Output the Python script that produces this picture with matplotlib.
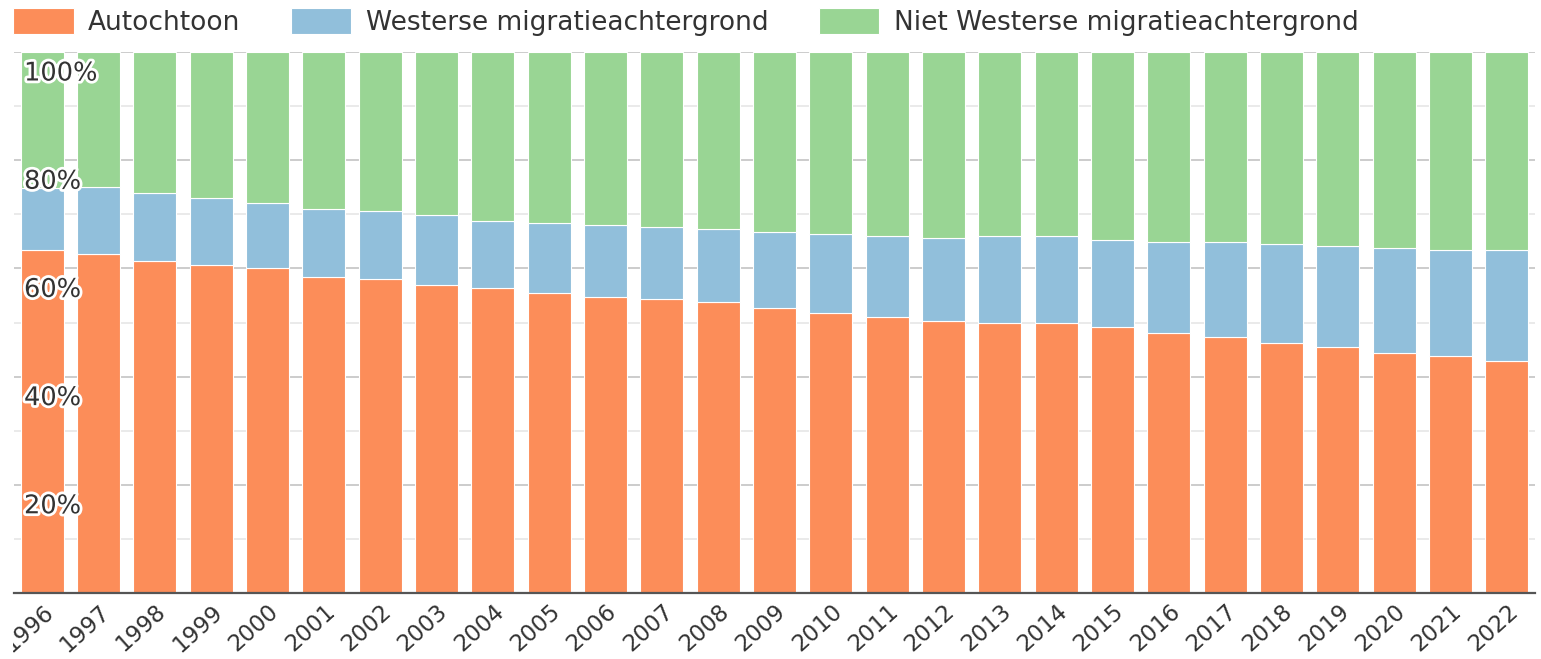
import matplotlib.pyplot as plt
import matplotlib.patheffects as pe
from matplotlib.patches import Patch
from matplotlib.transforms import ScaledTranslation, Bbox, TransformedBbox
import numpy as np

plt.rcParams['font.family'] = ['DejaVu Sans']

# data (percent of population per year)
years = [str(y) for y in range(1996, 2023)]
autochtoon = [63.4, 62.6, 61.4, 60.6, 60.0, 58.5, 58.1, 56.9, 56.3, 55.5, 54.7, 54.3, 53.7,
              52.6, 51.8, 51.0, 50.3, 49.9, 49.9, 49.1, 48.0, 47.3, 46.2, 45.4, 44.3, 43.9, 42.8]
westers = [11.5, 12.4, 12.5, 12.5, 12.1, 12.5, 12.5, 12.9, 12.4, 12.9, 13.3, 13.3, 13.5,
           14.2, 14.6, 15.0, 15.3, 16.1, 16.1, 16.2, 16.9, 17.6, 18.3, 18.7, 19.5, 19.5, 20.6]
niet_westers = [25.1, 25.0, 26.1, 26.9, 27.9, 29.0, 29.4, 30.2, 31.3, 31.6, 32.0, 32.4, 32.8,
                33.2, 33.6, 34.0, 34.4, 34.0, 34.0, 34.7, 35.1, 35.1, 35.5, 35.9, 36.2, 36.6, 36.6]
series_names = ["Autochtoon", "Westerse migratieachtergrond", "Niet Westerse migratieachtergrond"]
colors = ["#fc8d59", "#91bfdb", "#99d594"]
ytick_vals = [20, 40, 60, 80, 100]
ytick_labels = ["20%", "40%", "60%", "80%", "100%"]

W, H = 1541, 659
fig = plt.figure(figsize=(W / 100, H / 100), dpi=100)
ax = fig.add_axes([14 / W, (H - 593) / H, 1521 / W, 541 / H])

x = np.arange(len(years))
bottom = np.zeros(len(years))
for vals, name, col in zip([autochtoon, westers, niet_westers], series_names, colors):
    ax.bar(x, vals, width=0.76, bottom=bottom, color=col, edgecolor="white",
           linewidth=0.8, label=name, zorder=2)
    bottom += np.array(vals)

ax.set_xlim(-0.5, len(years) - 0.5)
ax.set_ylim(0, 100)

# grid: darker every 20%, lighter in between
ax.set_yticks(ytick_vals)
ax.set_yticks([10, 30, 50, 70, 90], minor=True)
ax.grid(axis="y", which="major", color="#c8c8c8", linewidth=1.3, zorder=0)
ax.grid(axis="y", which="minor", color="#e8e8e8", linewidth=1.3, zorder=0)
ax.set_axisbelow(True)
ax.tick_params(axis="y", which="both", length=0, labelleft=False)

for s in ["left", "right", "top"]:
    ax.spines[s].set_visible(False)
ax.spines["bottom"].set_color("#555555")
ax.spines["bottom"].set_linewidth(1.6)
ax.spines["bottom"].set_zorder(3)

# y labels inside the plot, just below their gridline, on top of the bars
label_tr = ax.get_yaxis_transform() + ScaledTranslation(0.10, -0.215, fig.dpi_scale_trans)
for v, t in zip(ytick_vals, ytick_labels):
    ax.text(0, v, t, transform=label_tr, ha="left", va="center", fontsize=18.5,
            color="#333333", zorder=5,
            path_effects=[pe.withStroke(linewidth=4, foreground="white")])

# x labels rotated; the first one is clipped at the left margin like the original
ax.set_xticks(x)
ax.set_xticklabels(years)
ax.tick_params(axis="x", length=0, pad=4, labelsize=16.5, labelcolor="#333333")
shift_x = ScaledTranslation(0.08, -0.10, fig.dpi_scale_trans)
clip = TransformedBbox(Bbox([[13 / W, 0], [1, 1]]), fig.transFigure)
for lab in ax.get_xticklabels():
    lab.set_rotation(42)
    lab.set_rotation_mode("anchor")
    lab.set_horizontalalignment("right")
    lab.set_verticalalignment("center")
    lab.set_transform(lab.get_transform() + shift_x)
    lab.set_clip_box(clip)
    lab.set_clip_on(True)

handles = [Patch(facecolor=c, edgecolor="white", linewidth=0.8) for c in colors]
fig.legend(handles, series_names, loc="center left", bbox_to_anchor=(13 / W, 1 - 22 / H),
           ncol=3, frameon=False, fontsize=19, handlelength=2.3, handleheight=1.1,
           handletextpad=0.55, columnspacing=1.9, borderpad=0, borderaxespad=0,
           labelcolor="#333333")

fig.savefig("out.png", dpi=100)
